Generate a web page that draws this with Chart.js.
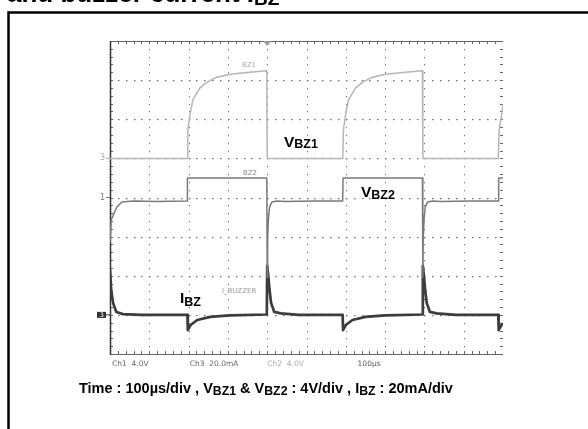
<!DOCTYPE html>
<html><head><meta charset="utf-8">
<script src="https://cdn.jsdelivr.net/npm/chart.js@4/dist/chart.umd.min.js"></script>
<style>html,body{margin:0;padding:0;background:#fff;}canvas{display:block;}</style>
</head><body>
<canvas id="c" width="588" height="429"></canvas>
<script>
// ---- Data (time in µs) ----
const timeDivUs = 100;            // 100 µs / div, 10 divisions
const voltsPerDiv = 4;            // V_BZ1 & V_BZ2 : 4V/div
const mAPerDiv = 20;              // I_BZ : 20mA/div
const groundDiv = [5, 4, 1];      // ground marker positions (divisions from bottom): BZ1, BZ2, I_BZ

const vbz1Time = [0, 196, 198, 204, 211, 229, 247, 272, 305, 356, 399, 400, 592, 594, 600, 607, 625, 643, 668, 701, 752, 795, 796, 988, 990, 996, 1000];
const vbz1Volt = [0, 0, 2.9, 4.6, 6.0, 7.2, 7.8, 8.3, 8.6, 8.8, 8.95, 0, 0, 2.9, 4.6, 6.0, 7.2, 7.8, 8.3, 8.6, 8.8, 8.95, 0, 0, 2.9, 4.3, 5.5];

const vbz2Time = [0, 3, 17, 30, 60, 120, 196, 197, 399, 400, 401, 403, 406, 412, 425, 445, 520, 592, 593, 795, 796, 797, 799, 802, 808, 821, 841, 920, 988, 989, 1000];
const vbz2Volt = [-4.6, -2.3, -1.0, -0.45, -0.35, -0.4, -0.35, 2.0, 2.0, -8.2, -4.3, -2.3, -1.0, -0.45, -0.36, -0.4, -0.35, -0.36, 2.0, 2.0, -8.2, -4.3, -2.3, -1.0, -0.45, -0.36, -0.4, -0.35, -0.36, 2.0, 2.0];

const ibzTime = [0, 3, 8, 16, 33, 80, 197, 198, 205, 222, 255, 305, 399, 400, 403, 406, 410, 418, 435, 480, 592, 593, 600, 617, 650, 700, 795, 796, 799, 802, 806, 814, 831, 880, 988, 989, 996, 1000];
const ibzMilliA = [23, 12.7, 6.0, 1.5, 0.4, 0, 0, -7.8, -5.2, -2.6, -1.0, -0.3, 0.2, 25, 19.4, 12.7, 6.0, 1.5, 0.8, 0, 0, -7.8, -5.2, -2.6, -1.0, -0.3, 0.2, 25, 19.4, 12.7, 6.0, 1.5, 0.8, 0, 0, -7.8, -5.2, -4.3];

const xDivs = 10, yDivs = 8, minorPerDiv = 5;
const bottomLabels = ["Ch1  4.0V", "Ch3  20.0mA", "Ch2  4.0V", "100µs"];

function toPoints(times, vals, offset, perDiv) {
  return times.map((t, i) => ({ x: t, y: offset + vals[i] / perDiv }));
}

function drawSub(ctx, parts, x, y, big, small, dy) {
  let cx = x;
  parts.forEach(p => {
    ctx.font = (p[1] ? small : big);
    ctx.fillText(p[0], cx, y + (p[1] ? dy : 0));
    cx += ctx.measureText(p[0]).width;
  });
  return cx;
}

const decor = {
  id: 'decor',
  beforeDraw(chart) {
    const ctx = chart.ctx;
    ctx.save();
    ctx.fillStyle = '#fff';
    ctx.fillRect(0, 0, chart.width, chart.height);
    // outer box
    ctx.strokeStyle = '#000';
    ctx.lineWidth = 2.5;
    ctx.beginPath();
    ctx.moveTo(8.5, 440); ctx.lineTo(8.5, 12.5); ctx.lineTo(600, 12.5);
    ctx.stroke();
    // cut-off title
    ctx.fillStyle = '#000';
    ctx.textBaseline = 'alphabetic';
    drawSub(ctx, [["and buzzer current I", false], ["BZ", true]], 7, 2,
      'bold 26px "Liberation Sans", Arial, sans-serif', 'bold 19px "Liberation Sans", Arial, sans-serif', 3);
    // caption
    drawSub(ctx, [["Time : 100µs/div , V", false], ["BZ1", true], [" & V", false], ["BZ2", true], [" : 4V/div , I", false], ["BZ", true], [" : 20mA/div", false]], 79, 393,
      'bold 14.5px "Liberation Sans", Arial, sans-serif', 'bold 12.3px "Liberation Sans", Arial, sans-serif', 2);
    ctx.restore();
  },
  beforeDatasetsDraw(chart) {
    const ctx = chart.ctx, a = chart.chartArea;
    const sx = chart.scales.x, sy = chart.scales.y;
    const xp = d => sx.getPixelForValue(d * timeDivUs);
    const yp = d => sy.getPixelForValue(d);
    ctx.save();
    // dotted grid
    ctx.fillStyle = '#6a6a6a';
    for (let i = 1; i < xDivs; i++) {
      const x = Math.round(xp(i));
      for (let k = 1; k < yDivs * minorPerDiv; k++) {
        const y = Math.round(yp(k / minorPerDiv));
        ctx.fillRect(x, y, 1, 1.2);
      }
    }
    for (let j = 1; j < yDivs; j++) {
      const y = Math.round(yp(j));
      for (let k = 1; k < xDivs * minorPerDiv; k++) {
        const x = Math.round(xp(k / minorPerDiv));
        ctx.fillRect(x, y, 1.5, 1.2);
      }
    }
    // frame: top / bottom solid with ticks
    ctx.strokeStyle = '#666';
    ctx.lineWidth = 1;
    ctx.beginPath();
    ctx.moveTo(a.left, Math.round(a.top) + 0.5); ctx.lineTo(a.right, Math.round(a.top) + 0.5);
    ctx.moveTo(a.left, Math.round(a.bottom) + 0.5); ctx.lineTo(a.right, Math.round(a.bottom) + 0.5);
    for (let k = 1; k < xDivs * minorPerDiv; k++) {
      const x = Math.round(xp(k / minorPerDiv)) + 0.5;
      ctx.moveTo(x, a.top); ctx.lineTo(x, a.top + 3);
      ctx.moveTo(x, a.bottom); ctx.lineTo(x, a.bottom - 3);
    }
    for (let k = 1; k < yDivs * minorPerDiv; k++) {
      const y = Math.round(yp(k / minorPerDiv)) + 0.5;
      ctx.moveTo(a.left, y); ctx.lineTo(a.left + 3, y);
      ctx.moveTo(a.right, y); ctx.lineTo(a.right - 3, y);
    }
    ctx.stroke();
    // left edge solid dark
    ctx.strokeStyle = '#333';
    ctx.lineWidth = 1.5;
    ctx.beginPath();
    ctx.moveTo(a.left + 0.5, a.top); ctx.lineTo(a.left + 0.5, a.bottom + 1);
    ctx.stroke();
    // trigger marker
    ctx.fillStyle = '#999';
    const tx = xp(4);
    ctx.beginPath();
    ctx.moveTo(tx - 4, a.top); ctx.lineTo(tx + 4, a.top); ctx.lineTo(tx, a.top + 5); ctx.closePath();
    ctx.fill();
    // ground markers
    ctx.font = '8px "DejaVu Sans", sans-serif';
    ctx.textBaseline = 'middle';
    ctx.fillStyle = '#aaa';
    ctx.fillText('3', a.left - 10, yp(groundDiv[0]));
    ctx.fillRect(a.left - 4, yp(groundDiv[0]) - 0.5, 4, 1);
    ctx.fillStyle = '#777';
    ctx.fillText('1', a.left - 10, yp(groundDiv[1]));
    ctx.fillRect(a.left - 4, yp(groundDiv[1]) - 0.5, 4, 1);
    ctx.fillStyle = '#333';
    ctx.fillRect(a.left - 13, yp(groundDiv[2]) - 3, 9, 6);
    ctx.fillRect(a.left - 4, yp(groundDiv[2]) - 0.5, 4, 1);
    ctx.fillStyle = '#fff';
    ctx.font = '6px "DejaVu Sans", sans-serif';
    ctx.fillText('3', a.left - 10, yp(groundDiv[2]) + 0.5);
    // bottom scope labels
    ctx.textBaseline = 'alphabetic';
    ctx.font = '7.5px "DejaVu Sans", sans-serif';
    const bl = [[bottomLabels[0], 0.05, '#666'], [bottomLabels[1], 2.03, '#666'], [bottomLabels[2], 4.0, '#aaa'], [bottomLabels[3], 6.3, '#555']];
    bl.forEach(b => { ctx.fillStyle = b[2]; ctx.fillText(b[0], xp(b[1]), a.bottom + 12); });
    ctx.restore();
  },
  afterDatasetsDraw(chart) {
    const ctx = chart.ctx;
    ctx.save();
    // small channel names
    ctx.font = '7px "DejaVu Sans", sans-serif';
    ctx.textBaseline = 'alphabetic';
    ctx.fillStyle = '#aaa'; ctx.fillText('BZ1', 242, 67);
    ctx.fillStyle = '#888'; ctx.fillText('BZ2', 243, 175);
    ctx.fillStyle = '#999'; ctx.fillText('I_BUZZER', 222, 293);
    // big labels
    ctx.fillStyle = '#000';
    const B = 'bold 15.5px "Liberation Sans", Arial, sans-serif', S = 'bold 12.5px "Liberation Sans", Arial, sans-serif';
    drawSub(ctx, [["V", false], ["BZ1", true]], 284, 147, B, S, 1);
    drawSub(ctx, [["V", false], ["BZ2", true]], 361, 197, B, S, 1.5);
    drawSub(ctx, [["I", false], ["BZ", true]], 180, 303, B, S, 2.5);
    ctx.restore();
  }
};

new Chart(document.getElementById('c'), {
  type: 'line',
  data: {
    datasets: [
      { label: 'V_BZ1', data: toPoints(vbz1Time, vbz1Volt, groundDiv[0], voltsPerDiv), borderColor: '#b5b5b5', borderWidth: 1.5 },
      { label: 'V_BZ2', data: toPoints(vbz2Time, vbz2Volt, groundDiv[1], voltsPerDiv), borderColor: '#7a7a7a', borderWidth: 1.5 },
      { label: 'I_BZ', data: toPoints(ibzTime, ibzMilliA, groundDiv[2], mAPerDiv), borderColor: '#3c3c3c', borderWidth: 2.7 }
    ]
  },
  options: {
    responsive: false,
    animation: false,
    events: [],
    layout: { padding: { left: 110, top: 41, right: 85, bottom: 75 } },
    elements: { point: { radius: 0 }, line: { tension: 0, borderJoinStyle: 'round' } },
    plugins: { legend: { display: false }, tooltip: { enabled: false }, title: { display: false } },
    scales: {
      x: { type: 'linear', min: 0, max: xDivs * timeDivUs, display: false },
      y: { type: 'linear', min: 0, max: yDivs, display: false }
    }
  },
  plugins: [decor]
});
</script>
</body></html>
